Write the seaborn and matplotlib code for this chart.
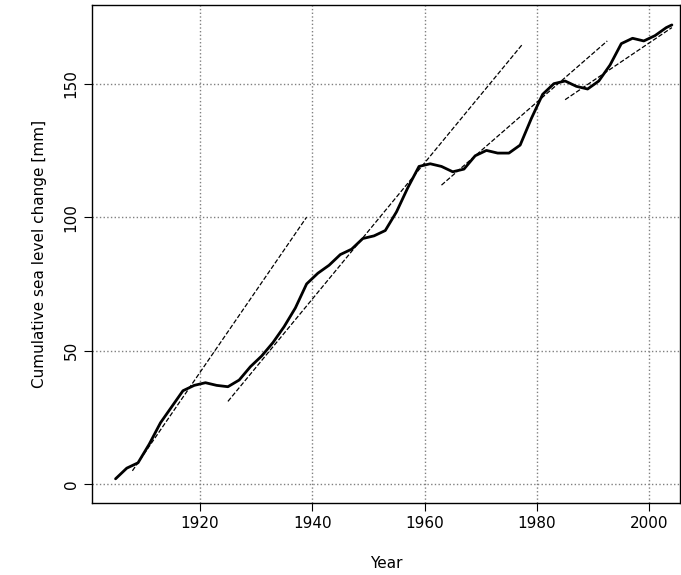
import numpy as np
import matplotlib
matplotlib.use("Agg")
import matplotlib.pyplot as plt
import seaborn as sns

years = [1905, 1907, 1909, 1911, 1913, 1915, 1917, 1919, 1921, 1923, 1925, 1927, 1929,
         1931, 1933, 1935, 1937, 1939, 1941, 1943, 1945, 1947, 1949, 1951, 1953, 1955,
         1957, 1959, 1961, 1963, 1965, 1967, 1969, 1971, 1973, 1975, 1977, 1979, 1981,
         1983, 1985, 1987, 1989, 1991, 1993, 1995, 1997, 1999, 2001, 2003, 2004]
sea_level = [2, 6, 8, 15, 23, 29, 35, 37, 38, 37, 36.5, 39, 44, 48, 53, 59, 66, 75, 79,
             82, 86, 88, 92, 93, 95, 102, 111, 119, 120, 119, 117, 118, 123, 125, 124,
             124, 127, 137, 146, 150, 151, 149, 148, 151, 157, 165, 167, 166, 168, 171, 172]

# trend segments: (x0, x1), (y0, y1)
trend_x = [(1908, 1939), (1925, 1977.5), (1963, 1992.5), (1985, 2004)]
trend_y = [(5, 100), (31, 165), (112, 166), (144, 171)]

sns.set_style("white")
plt.rcParams["text.color"] = "black"
plt.rcParams["axes.labelcolor"] = "black"
plt.rcParams["xtick.color"] = "black"
plt.rcParams["ytick.color"] = "black"
fig = plt.figure(figsize=(6.81, 5.75), dpi=100)
ax = fig.add_axes([0.135, 0.125, 0.864, 0.866])

sns.lineplot(x=years, y=sea_level, ax=ax, color="black", linewidth=2)
for xs, ys in zip(trend_x, trend_y):
    sns.lineplot(x=list(xs), y=list(ys), ax=ax, color="black", linewidth=0.9, linestyle="--")

ax.set_xlim(1900.8, 2005.5)
ax.set_ylim(-7.1, 179.4)
ax.set_xticks([1920, 1940, 1960, 1980, 2000])
ax.set_yticks([0, 50, 100, 150])
ax.grid(True, color="gray", linestyle=":", linewidth=1)
for s in ax.spines.values():
    s.set_color("black")
    s.set_linewidth(1)
ax.tick_params(axis="both", direction="out", length=6, labelsize=11, bottom=True, left=True)
plt.setp(ax.get_yticklabels(), rotation=90, va="center")
ax.set_xlabel("Year", fontsize=11, labelpad=18)
ax.set_ylabel("Cumulative sea level change [mm]", fontsize=11, labelpad=12)

fig.savefig("out.png", dpi=100)
